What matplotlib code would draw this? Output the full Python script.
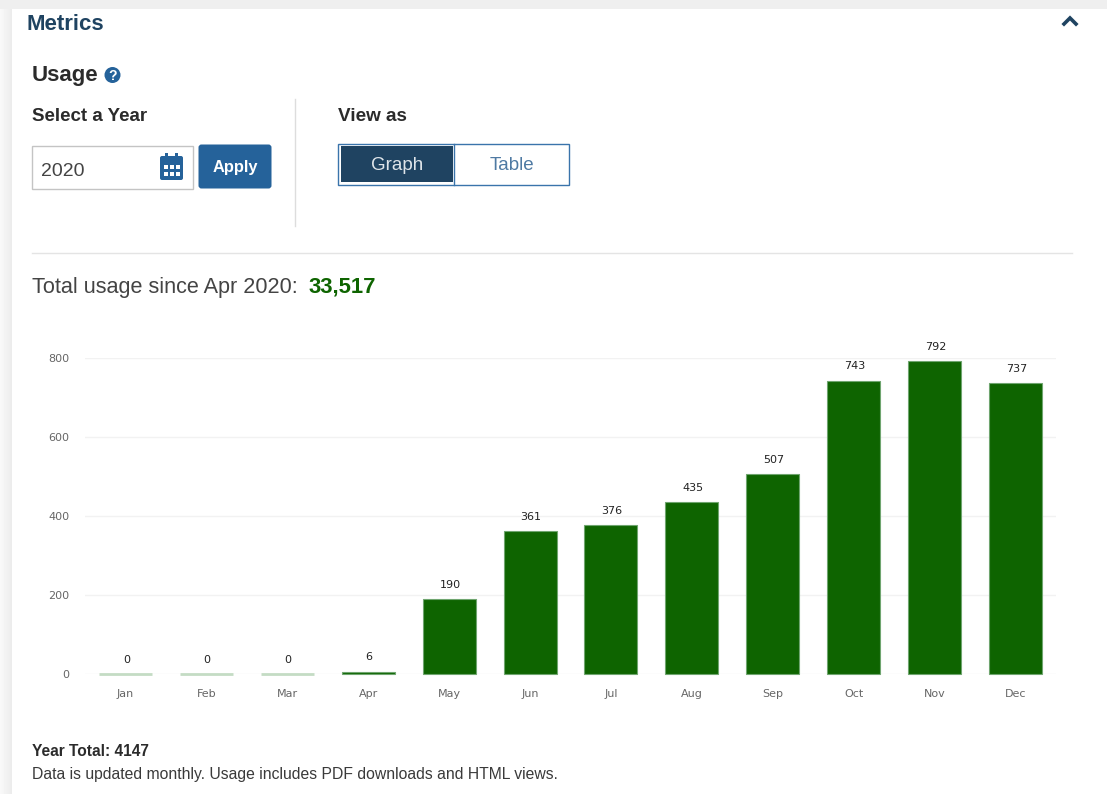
import matplotlib.patches as patches
import matplotlib.pyplot as plt
import numpy as np

W, H = 1107, 794

months = ["Jan", "Feb", "Mar", "Apr", "May", "Jun", "Jul", "Aug", "Sep", "Oct", "Nov", "Dec"]
usage = [0, 0, 0, 6, 190, 361, 376, 435, 507, 743, 792, 737]
y_ticks = [0, 200, 400, 600, 800]

plt.rcParams["font.family"] = ["Liberation Sans", "DejaVu Sans"]

NAVY = "#1f4361"
BLUE = "#25629a"
GREEN = "#0e6400"
DARK = "#2b2b2b"

fig = plt.figure(figsize=(W / 100, H / 100), dpi=100, facecolor="white")

# page furniture, in pixel coordinates
ui = fig.add_axes([0, 0, 1, 1], zorder=0)
ui.set_xlim(0, W)
ui.set_ylim(H, 0)
ui.axis("off")

shade = np.linspace(0.975, 0.925, 12).reshape(1, -1)
ui.imshow(shade, extent=(0, 12, H, 0), cmap="gray", vmin=0, vmax=1, aspect="auto")
ui.add_patch(patches.Rectangle((0, 0), W, 9, fc="#efefef", ec="none"))
ui.set_xlim(0, W)
ui.set_ylim(H, 0)

ui.text(27, 24.5, "Metrics", fontsize=16, fontweight="bold", color=NAVY, va="center")
ui.plot([1064, 1070, 1076], [24, 18, 24], color=NAVY, lw=2.6, solid_joinstyle="miter")

ui.text(31.5, 75, "Usage", fontsize=16, fontweight="bold", color=DARK, va="center")
ui.add_patch(patches.Ellipse((112.5, 75), 16, 16, fc=BLUE, ec="none"))
ui.text(112.5, 75.5, "?", fontsize=10, fontweight="bold", color="white", ha="center", va="center")

ui.text(32.5, 116.5, "Select a Year", fontsize=13.5, fontweight="bold", color=DARK, va="center")
ui.text(338, 116.5, "View as", fontsize=13.6, fontweight="bold", color=DARK, va="center")

# year input
ui.add_patch(patches.Rectangle((31.5, 145.5), 161, 43, fc="white", ec="#c4c4c4", lw=1))
ui.text(41, 171.5, "2020", fontsize=14, color="#444444", va="center")
ui.add_patch(patches.FancyBboxPatch((160, 156), 23, 24, boxstyle="round,pad=0,rounding_size=2",
                                    fc=BLUE, ec="none"))
ui.add_patch(patches.Rectangle((165, 153), 3, 6, fc=BLUE, ec="none"))
ui.add_patch(patches.Rectangle((175, 153), 3, 6, fc=BLUE, ec="none"))
for cx in (164, 170, 176):
    for cy in (165, 172):
        ui.add_patch(patches.Rectangle((cx, cy), 3.5, 3.5, fc="white", ec="none"))

ui.add_patch(patches.FancyBboxPatch((198.5, 144.5), 73, 44, boxstyle="round,pad=0,rounding_size=3",
                                    fc=BLUE, ec="none"))
ui.text(235, 167.5, "Apply", fontsize=11.8, fontweight="bold", color="white", ha="center", va="center")

ui.plot([295, 295], [99, 226], color="#dddddd", lw=1)

# graph / table toggle
ui.add_patch(patches.Rectangle((338, 143.5), 231, 41, fc="white", ec="#3a74ab", lw=1))
ui.add_patch(patches.Rectangle((340.5, 146), 112, 36, fc=NAVY, ec="none"))
ui.plot([454, 454], [143.5, 184.5], color="#3a74ab", lw=1)
ui.text(397, 165.5, "Graph", fontsize=13.5, color="#dfe5ea", ha="center", va="center")
ui.text(512, 165.5, "Table", fontsize=13.5, color="#4f7aa3", ha="center", va="center")

ui.plot([31.5, 1072], [253, 253], color="#e4e4e4", lw=1)

ui.text(32, 287.5, "Total usage since Apr 2020:", fontsize=15.6, color="#444444", va="center")
ui.text(309, 286.5, "33,517", fontsize=15.8, fontweight="bold", color=GREEN, va="center")

ui.text(32, 752, "Year Total: 4147", fontsize=11.2, fontweight="bold", color=DARK, va="center")
ui.text(32, 774, "Data is updated monthly. Usage includes PDF downloads and HTML views.",
        fontsize=11.3, color="#3a3a3a", va="center")

# the chart itself
ax = fig.add_axes([85.0 / W, 1 - 674 / H, 971 / W, 316 / H], zorder=1)
ax.patch.set_alpha(0)
x = np.arange(len(months))
edges = ["#c4dcc4" if val == 0 else "#6fa56f" for val in usage]
widths = [2 if val == 0 else 0.8 for val in usage]
bars = ax.bar(x, usage, width=53 / 81, color=GREEN, edgecolor=edges, linewidth=widths,
              zorder=3, clip_on=False)
ax.set_xlim(-0.5, 11.5)
ax.set_ylim(0, 800)
ax.set_xticks(x, months)
ax.set_yticks(y_ticks)
ax.tick_params(axis="both", length=0, labelsize=8, labelcolor="#666666", labelfontfamily="DejaVu Sans")
ax.tick_params(axis="x", pad=11)
ax.tick_params(axis="y", pad=11)
ax.grid(axis="y", color="#f2f2f2", lw=1)
ax.set_axisbelow(True)
for side in ax.spines:
    ax.spines[side].set_visible(False)

for xi, val in zip(x, usage):
    ax.annotate(str(val), (xi + 0.01, val), xytext=(0, 6.6), textcoords="offset points", ha="center",
                va="bottom", fontsize=8, color="#222222", family="DejaVu Sans", annotation_clip=False)

fig.savefig("out.png", dpi=100)
